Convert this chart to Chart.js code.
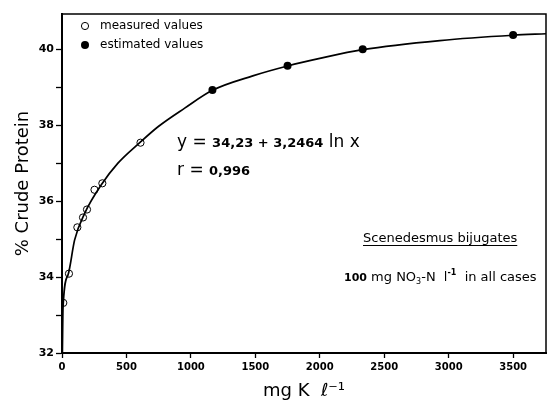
<!DOCTYPE html>
<html>
<head>
<meta charset="utf-8">
<script src="https://cdn.jsdelivr.net/npm/chart.js@4.4.0/dist/chart.umd.min.js"></script>
<style>
  html, body { margin: 0; padding: 0; background: #fff; }
  canvas { display: block; }
</style>
</head>
<body>
<canvas id="chart" width="548" height="406"></canvas>
<script>
// measured values (open circles)
const measuredX = [10, 54, 119, 163, 194, 252, 313, 609];
const measuredY = [33.32, 34.09, 35.31, 35.57, 35.78, 36.30, 36.47, 37.54];
// estimated values (filled circles)
const estimatedX = [1167, 1750, 2333, 3500];
const estimatedY = [38.93, 39.57, 40.0, 40.38];
// fitted curve
const curveX = [3, 8, 47, 98, 176, 305, 434, 603, 745, 952, 1167, 1480, 1750, 2000, 2333, 2932, 3500, 3755];
const curveY = [32.0, 33.2, 34.06, 34.98, 35.68, 36.43, 37.0, 37.54, 37.96, 38.45, 38.92, 39.30, 39.56, 39.76, 39.99, 40.23, 40.37, 40.41];
// axes
const xRange = [0, 3755];
const yRange = [32, 40.93];
const xTicks = [0, 500, 1000, 1500, 2000, 2500, 3000, 3500];
const yTicks = [32, 33, 34, 35, 36, 37, 38, 39, 40];
const yLabels = [32, 34, 36, 38, 40];

const pts = (xs, ys) => xs.map((x, i) => ({ x: x, y: ys[i] }));
const FONT = "'DejaVu Sans', sans-serif";

// draw pieces of text one after another
function runs(ctx, x, y, parts) {
  parts.forEach(([t, f, dy]) => {
    ctx.font = f;
    ctx.fillText(t, x, y + (dy || 0));
    x += ctx.measureText(t).width;
  });
  return x;
}

const whiteBg = {
  id: 'whiteBg',
  beforeDraw(chart) {
    const ctx = chart.ctx;
    ctx.save();
    ctx.fillStyle = '#fff';
    ctx.fillRect(0, 0, chart.width, chart.height);
    ctx.restore();
  }
};

const frame = {
  id: 'frame',
  afterDraw(chart) {
    const { ctx, chartArea: a } = chart;
    ctx.save();
    ctx.strokeStyle = '#000';
    ctx.lineWidth = 1.5;
    ctx.strokeRect(a.left, a.top, a.right - a.left, a.bottom - a.top);
    ctx.restore();
  }
};

const notes = {
  id: 'notes',
  afterDraw(chart) {
    const ctx = chart.ctx;
    const ds = chart.data.datasets;
    ctx.save();
    ctx.fillStyle = '#000';
    ctx.strokeStyle = '#000';

    // legend
    ctx.textBaseline = 'middle';
    ctx.lineWidth = 1;
    ctx.beginPath();
    ctx.arc(85, 26, ds[1].pointRadius, 0, Math.PI * 2);
    ctx.stroke();
    ctx.beginPath();
    ctx.arc(85, 45, ds[2].pointRadius, 0, Math.PI * 2);
    ctx.fill();
    ctx.font = '12px ' + FONT;
    ctx.fillText(ds[1].label, 100, 26);
    ctx.fillText(ds[2].label, 100, 45);

    // equation
    ctx.textBaseline = 'alphabetic';
    runs(ctx, 177, 147, [
      ['y = ', '17px ' + FONT],
      ['34,23 + 3,2464', 'bold 13px ' + FONT],
      [' ln x', '17px ' + FONT]
    ]);
    runs(ctx, 177, 175, [
      ['r = ', '17px ' + FONT],
      ['0,996', 'bold 13px ' + FONT]
    ]);

    // species, underlined
    ctx.font = '13px ' + FONT;
    const sp = 'Scenedesmus bijugates';
    ctx.fillText(sp, 363, 242);
    const w = ctx.measureText(sp).width;
    ctx.lineWidth = 1;
    ctx.beginPath();
    ctx.moveTo(363, 245.5);
    ctx.lineTo(363 + w, 245.5);
    ctx.stroke();

    runs(ctx, 344, 281, [
      ['100', 'bold 11px ' + FONT],
      [' mg NO', '13px ' + FONT],
      ['3', '8px ' + FONT, 3],
      ['-N  l', '13px ' + FONT],
      ['-1', 'bold 8px ' + FONT, -6],
      ['  in all cases', '13px ' + FONT]
    ]);
    ctx.restore();
  }
};

new Chart(document.getElementById('chart'), {
  type: 'scatter',
  data: {
    datasets: [
      {
        label: 'curve',
        data: pts(curveX, curveY),
        showLine: true,
        borderColor: '#000',
        borderWidth: 1.7,
        pointRadius: 0,
        cubicInterpolationMode: 'monotone',
        order: 3
      },
      {
        label: 'measured values',
        data: pts(measuredX, measuredY),
        pointRadius: 3.6,
        pointBackgroundColor: 'rgba(0,0,0,0)',
        pointBorderColor: '#000',
        pointBorderWidth: 1,
        order: 1
      },
      {
        label: 'estimated values',
        data: pts(estimatedX, estimatedY),
        pointRadius: 4,
        pointBackgroundColor: '#000',
        pointBorderColor: '#000',
        pointBorderWidth: 0,
        order: 2
      }
    ]
  },
  options: {
    responsive: false,
    animation: false,
    devicePixelRatio: 1,
    layout: { autoPadding: false, padding: { top: 14, right: 2, left: 0, bottom: 0 } },
    plugins: { legend: { display: false }, tooltip: { enabled: false } },
    scales: {
      x: {
        type: 'linear',
        min: xRange[0],
        max: xRange[1],
        afterBuildTicks: (s) => { s.ticks = xTicks.map((v) => ({ value: v })); },
        afterFit: (s) => { s.height = 53; s.paddingLeft = 0; s.paddingRight = 0; },
        ticks: {
          autoSkip: false,
          maxRotation: 0,
          padding: 3,
          color: '#000',
          font: { family: FONT, size: 10, weight: 'bold' },
          callback: (v) => String(v)
        },
        grid: { drawOnChartArea: false, tickLength: 5, color: '#000', tickWidth: 1.3 },
        border: { color: '#000', width: 2 },
        title: {
          display: true,
          text: 'mg K  ℓ⁻¹',
          color: '#000',
          font: { family: FONT, size: 18 },
          padding: { top: 0, bottom: 4 }
        }
      },
      y: {
        type: 'linear',
        min: yRange[0],
        max: yRange[1],
        afterBuildTicks: (s) => { s.ticks = yTicks.map((v) => ({ value: v })); },
        afterFit: (s) => { s.width = 62; s.paddingTop = 0; s.paddingBottom = 0; },
        ticks: {
          autoSkip: false,
          padding: 2,
          color: '#000',
          font: { family: FONT, size: 11, weight: 'bold' },
          callback: (v) => (yLabels.includes(v) ? String(v) : '')
        },
        grid: { drawOnChartArea: false, tickLength: 6, color: '#000', tickWidth: 1.3 },
        border: { color: '#000', width: 2 },
        title: {
          display: true,
          text: '% Crude Protein',
          color: '#000',
          font: { family: FONT, size: 18 },
          padding: { top: 13, bottom: 0 }
        }
      }
    }
  },
  plugins: [whiteBg, frame, notes]
});
</script>
</body>
</html>
